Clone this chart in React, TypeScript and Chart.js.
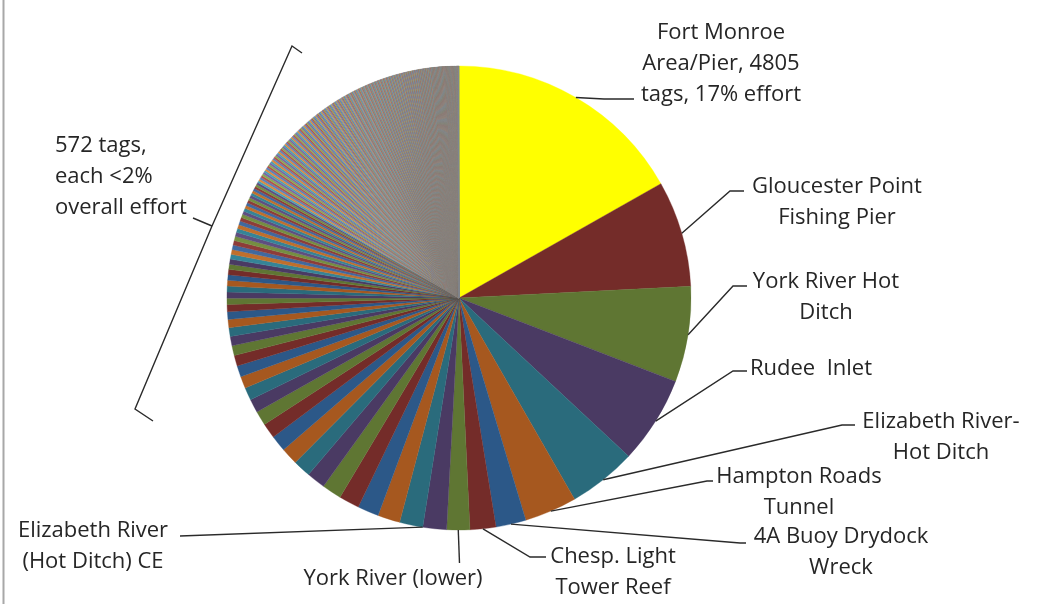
import React, { useEffect, useRef } from "react";
import { Chart, registerables } from "chart.js";

Chart.register(...registerables);

// ---- DATA ----
const labeledSites = [
  "Fort Monroe Area/Pier",
  "Gloucester Point Fishing Pier",
  "York River Hot Ditch",
  "Rudee Inlet",
  "Elizabeth River-Hot Ditch",
  "Hampton Roads Tunnel",
  "4A Buoy Drydock Wreck",
  "Chesp. Light Tower Reef",
  "York River (lower)",
  "Elizabeth River (Hot Ditch) CE",
];
// % of overall effort
const labeledEffort = [16.8, 7.4, 6.65, 6.1, 4.75, 3.65, 2.1, 1.8, 1.6, 1.65];

// remaining sites, each <2% effort (read slice by slice)
const smallEffort = [
  1.62, 1.55, 1.48, 1.42, 1.36, 1.3, 1.24, 1.18, 1.12, 1.06,
  1.0, 0.94, 0.89, 0.83, 0.78, 0.74, 0.69, 0.65, 0.61, 0.57, 0.53, 0.49, 0.44,
  0.42, 0.41, 0.4, 0.38, 0.37, 0.36, 0.35, 0.34, 0.33, 0.32, 0.31, 0.3, 0.29, 0.28, 0.27, 0.26, 0.25,
  0.24, 0.23, 0.22, 0.21, 0.2, 0.2, 0.19, 0.18, 0.18, 0.17, 0.17, 0.16, 0.16, 0.15,
];
// the many tiniest sites, grouped by (effort level, number of sites)
const tinyEffortLevels = [0.14, 0.13, 0.12, 0.11, 0.1, 0.09, 0.08, 0.07, 0.06, 0.05, 0.04, 0.035, 0.03, 0.025, 0.02, 0.015, 0.01];
const tinySiteCounts = [6, 8, 8, 9, 10, 11, 12, 14, 16, 20, 25, 30, 35, 40, 50, 60, 99];

const labelLines = [
  ["Fort Monroe", "Area/Pier, 4805", "tags, 17% effort"],
  ["Gloucester Point", "Fishing Pier"],
  ["York River Hot", "Ditch"],
  ["Rudee  Inlet"],
  ["Elizabeth River-", "Hot Ditch"],
  ["Hampton Roads", "Tunnel"],
  ["4A Buoy Drydock", "Wreck"],
  ["Chesp. Light", "Tower Reef"],
  ["York River (lower)"],
  ["Elizabeth River", "(Hot Ditch) CE"],
];
const groupLines = ["572 tags,", "each <2%", "overall effort"];

// ---- LAYOUT / STYLE ----
const labelCenterX = [721, 837, 826, 811, 941, 799, 841, 613, 393, 93];
const labelFirstBaseline = [39, 193, 288, 375, 428, 483, 543, 563, 585, 537];
const leaderAnchor = [0.5, 0.5, 0.5, 0.5, 0.5, 0.5, 0.5, 0.5, 0.5, 1.0];
const leaderElbow: [number, number][] = [
  [604, 99], [730, 191], [733, 286], [733, 371], [842, 425], [707, 481], [740, 543], [530, 557], [459.5, 563], [180, 536],
];
const leaderEnd: [number, number][] = [
  [634, 99], [744, 191], [747, 286], [747, 371], [855, 425], [713, 481], [746, 543], [546, 557], [459.5, 563], [180, 536],
];
const LINE_H = 31;
const FONT = '22px "Open Sans"';
const TEXT_COLOR = "#262626";

const YELLOW = "#FFFF00";
const palette = ["#2C5888", "#742C29", "#5F7633", "#4A3A63", "#2A6B7C", "#A6581F"];
const midPalette = ["#40699F", "#8E3C39", "#758F41", "#5F4E80", "#358497", "#C06F2C"];
const tailPalette = ["#5A82BC", "#B0524E", "#8CAB52", "#7A66A2", "#48A0B6", "#DC8A3E"];
const MID_FROM = 40;

export default function App() {
  const ref = useRef<HTMLCanvasElement | null>(null);

  useEffect(() => {
    if (!ref.current) return;
    const tinyEffort: number[] = [];
    tinyEffortLevels.forEach((v, k) => {
      for (let n = 0; n < tinySiteCounts[k]; n++) tinyEffort.push(v);
    });
    const values = [...labeledEffort, ...smallEffort, ...tinyEffort];
    const firstTiny = labeledEffort.length + smallEffort.length;
    const labels = values.map((_, i) => (i < labeledSites.length ? labeledSites[i] : "Site " + (i + 1)));
    const colors = values.map((_, i) =>
      i === 0
        ? YELLOW
        : i >= firstTiny
        ? tailPalette[i % 6]
        : i >= MID_FROM
        ? midPalette[i % 6]
        : palette[i % 6]
    );

    const annot = {
      id: "annot",
      afterDraw(chart: any) {
        const ctx = chart.ctx as CanvasRenderingContext2D;
        ctx.save();
        // left frame line
        ctx.strokeStyle = "#A8A8A8";
        ctx.lineWidth = 2;
        ctx.beginPath();
        ctx.moveTo(3.5, 0);
        ctx.lineTo(3.5, 604);
        ctx.stroke();

        const meta = chart.getDatasetMeta(0);
        ctx.strokeStyle = "#2a2a2a";
        ctx.lineWidth = 1.4;
        ctx.fillStyle = TEXT_COLOR;
        ctx.font = FONT;
        ctx.textAlign = "center";
        ctx.textBaseline = "alphabetic";
        labelLines.forEach((lines, i) => {
          const arc = meta.data[i];
          const p = arc.getProps(["x", "y", "startAngle", "endAngle", "outerRadius"], true);
          const a = p.startAngle + (p.endAngle - p.startAngle) * leaderAnchor[i];
          const sx = p.x + Math.cos(a) * p.outerRadius;
          const sy = p.y + Math.sin(a) * p.outerRadius;
          ctx.beginPath();
          ctx.moveTo(sx, sy);
          ctx.lineTo(leaderElbow[i][0], leaderElbow[i][1]);
          ctx.lineTo(leaderEnd[i][0], leaderEnd[i][1]);
          ctx.stroke();
          lines.forEach((t, j) => {
            ctx.fillText(t, labelCenterX[i], labelFirstBaseline[i] + j * LINE_H);
          });
        });

        // bracket for small sites
        ctx.beginPath();
        ctx.moveTo(302, 53);
        ctx.lineTo(292, 46);
        ctx.lineTo(212, 226);
        ctx.lineTo(135, 409);
        ctx.lineTo(153, 421);
        ctx.moveTo(193, 218);
        ctx.lineTo(212, 226);
        ctx.stroke();
        ctx.textAlign = "left";
        groupLines.forEach((t, j) => ctx.fillText(t, 55, 152 + j * LINE_H));
        ctx.restore();
      },
    };

    const chart = new Chart(ref.current, {
      type: "pie",
      data: {
        labels,
        datasets: [
          {
            data: values,
            backgroundColor: colors,
            borderColor: colors,
            borderWidth: 0.35,
          },
        ],
      },
      options: {
        animation: false,
        responsive: false,
        events: [],
        layout: { padding: { left: 226.8, right: 368.8, top: 65.8, bottom: 73.8 } },
        plugins: {
          legend: { display: false },
          tooltip: { enabled: false },
          title: { display: false },
        },
      },
      plugins: [annot],
    });
    return () => chart.destroy();
  }, []);

  return (
    <div style={{ position: "fixed", left: 0, top: 0, width: 1060, height: 604, background: "#fff" }}>
      <canvas ref={ref} width={1060} height={604} style={{ width: 1060, height: 604, display: "block" }} />
    </div>
  );
}
